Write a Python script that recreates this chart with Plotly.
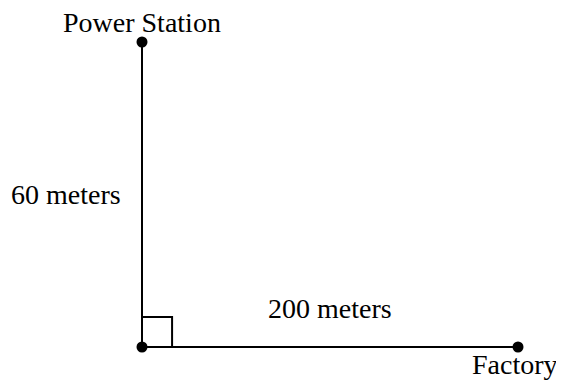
import plotly.graph_objects as go

# distances in meters, corner of the right angle at the origin
point_names = ["Power Station", "Corner", "Factory"]
point_x = [0, 0, 200]
point_y = [60, 0, 0]
side_labels = ["60 meters", "200 meters"]

FONT = dict(family="Liberation Serif", size=28, color="black")

fig = go.Figure()
fig.add_trace(go.Scatter(
    x=point_x, y=point_y,
    mode="lines+markers",
    line=dict(color="black", width=2),
    marker=dict(color="black", size=11),
    hoverinfo="skip",
    showlegend=False,
))

# right angle marker at the corner
fig.add_shape(type="rect", x0=0, y0=0, x1=16, y1=5.9,
              line=dict(color="black", width=2))

annos = [
    dict(x=point_x[0], y=point_y[0], text=point_names[0], yshift=20),
    dict(x=point_x[2], y=point_y[2], text=point_names[2], yshift=-18, xshift=-3),
    dict(x=point_x[1], y=point_y[0] / 2, text=side_labels[0], xshift=-76),
    dict(x=point_x[2] / 2, y=point_y[1], text=side_labels[1], yshift=38),
]
for a in annos:
    fig.add_annotation(showarrow=False, font=FONT, xanchor="center", yanchor="middle", **a)

fig.update_xaxes(range=[-71.28, 224.47], visible=False)
fig.update_yaxes(range=[-6.69, 66.69], visible=False)
fig.update_layout(
    width=556, height=373,
    margin=dict(l=0, r=0, t=0, b=0),
    plot_bgcolor="white", paper_bgcolor="white",
)
fig.write_html("out.html")
